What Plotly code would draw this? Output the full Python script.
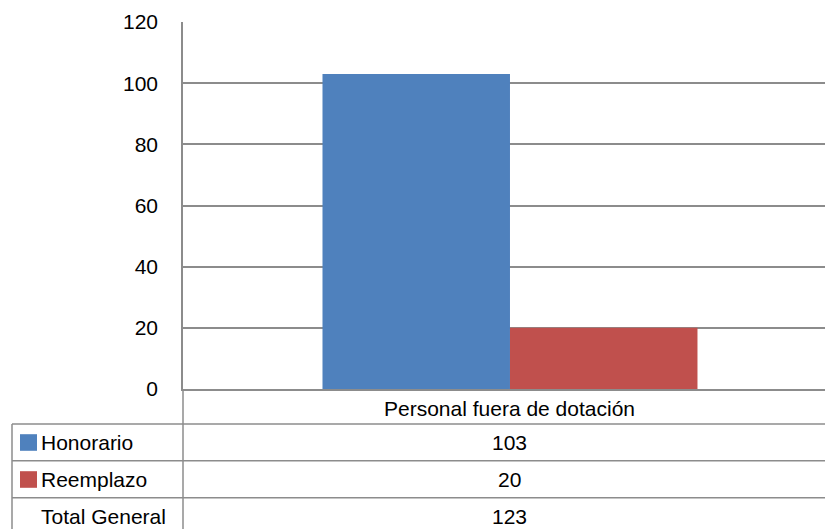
import plotly.graph_objects as go

categories = ["Personal fuera de dotación"]
series_names = ["Honorario", "Reemplazo"]
honorario = [103]
reemplazo = [20]
totals = [123]
total_label = "Total General"
y_ticks = [0, 20, 40, 60, 80, 100, 120]

colors = ["#4F81BD", "#C0504D"]
W, H = 825, 529
L, T, BOT = 183, 22, 389
FONT = "Liberation Sans, Arial, sans-serif"
FS = 21
GRID = "#8c8c8c"


def px(x):
    return (x - L) / (W - L)


def py(y):
    return (BOT - y) / (BOT - T)


fig = go.Figure()
for name, vals, col in zip(series_names, [honorario, reemplazo], colors):
    fig.add_trace(go.Bar(x=categories, y=vals, name=name, marker_color=col,
                         marker_line_width=0, showlegend=False, hoverinfo="skip"))

shapes = []
# table horizontal lines
for yy in [424, 460.7, 497.7]:
    shapes.append(dict(type="line", xref="paper", yref="paper", x0=px(12), x1=1,
                       y0=py(yy), y1=py(yy), line=dict(color=GRID, width=1.5)))
# table vertical lines
shapes.append(dict(type="line", xref="paper", yref="paper", x0=px(12), x1=px(12),
                   y0=py(424), y1=py(535), line=dict(color=GRID, width=1.5)))
shapes.append(dict(type="line", xref="paper", yref="paper", x0=0, x1=0,
                   y0=py(389), y1=py(535), line=dict(color=GRID, width=1.5)))
# legend keys
for yc, col in zip([442.5, 479.5], colors):
    shapes.append(dict(type="rect", xref="paper", yref="paper", x0=px(20), x1=px(37),
                       y0=py(yc - 8.3), y1=py(yc + 8.3), fillcolor=col, line=dict(width=0)))

annotations = [
    dict(x=categories[0], xref="x", y=py(408), yref="paper", text=categories[0],
         showarrow=False, font=dict(family=FONT, size=FS, color="black"),
         xanchor="center", yanchor="middle"),
]
row_y = [442.5, 479.5, 516]
row_labels = series_names + [total_label]
row_vals = [honorario[0], reemplazo[0], totals[0]]
for yy, lab, v in zip(row_y, row_labels, row_vals):
    annotations.append(dict(x=px(39), xref="paper", y=py(yy), yref="paper", text=lab,
                            showarrow=False, font=dict(family=FONT, size=FS, color="black"),
                            xanchor="left", yanchor="middle"))
    annotations.append(dict(x=categories[0], xref="x", y=py(yy), yref="paper", text=str(v),
                            showarrow=False, font=dict(family=FONT, size=FS, color="black"),
                            xanchor="center", yanchor="middle"))

fig.update_layout(
    width=W, height=H,
    margin=dict(l=L, r=0, t=T, b=H - BOT),
    paper_bgcolor="white", plot_bgcolor="white",
    barmode="group", bargap=0.4266, bargroupgap=0,
    shapes=shapes, annotations=annotations,
    font=dict(family=FONT, size=FS, color="black"),
    xaxis=dict(type="category", range=[-0.5, 0.4817], showticklabels=False,
               showgrid=False, showline=True, linecolor=GRID, linewidth=2,
               zeroline=False, fixedrange=True),
    yaxis=dict(range=[0, 120], tickvals=y_ticks, showgrid=True, gridcolor=GRID,
               gridwidth=1.5, showline=True, linecolor=GRID, linewidth=1.5,
               zeroline=False, ticks="", ticklabelstandoff=19, fixedrange=True,
               tickfont=dict(family=FONT, size=FS, color="black")),
)

fig.write_html("out.html", config={"displayModeBar": False},
               post_script="document.body.style.margin='0';document.body.style.overflow='hidden';")
